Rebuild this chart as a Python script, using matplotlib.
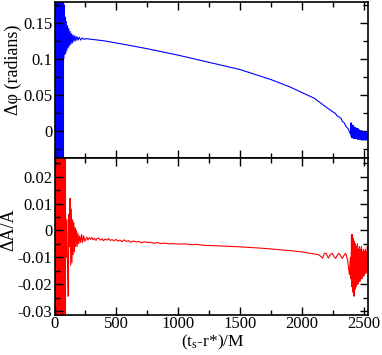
import numpy as np
import matplotlib
matplotlib.use("Agg")
import matplotlib.pyplot as plt
from matplotlib.ticker import MultipleLocator

plt.rcParams['font.family'] = ['Liberation Serif', 'DejaVu Serif']
plt.rcParams['mathtext.fontset'] = 'custom'
plt.rcParams['mathtext.rm'] = 'Liberation Serif'
plt.rcParams['mathtext.it'] = 'Liberation Serif:italic'
plt.rcParams['axes.unicode_minus'] = False

# ---- data ----
# phase difference (blue)
phi_burst_t = [8, 71]                      # dense oscillation band at start
phi_burst_lo = [-0.06, -0.06]
phi_burst_hi = [0.21, 0.21]

phi_t = [71, 74, 78, 82, 86, 90, 95, 100, 105, 110, 115, 120, 126, 132, 138,
         144, 150, 157, 164, 172, 180, 190, 200, 212, 225, 240, 255,
         400, 500, 750, 1000, 1250, 1500, 1750, 1900, 2000, 2100, 2200,
         2250, 2270, 2280, 2300, 2315, 2325, 2340, 2355, 2365, 2375, 2385,
         2392, 2395, 2397, 2399, 2401, 2403, 2405, 2407, 2409, 2411, 2413,
         2415, 2418, 2421, 2424, 2427, 2430, 2433, 2436, 2439, 2442, 2445,
         2448, 2451, 2454, 2457, 2460, 2463, 2466, 2469, 2472, 2475, 2478,
         2481, 2484, 2487, 2490, 2493, 2496, 2499, 2502, 2505, 2508, 2511,
         2514, 2517, 2520, 2523, 2526, 2530]
phi_v = [0.18, 0.10, 0.175, 0.106, 0.158, 0.108, 0.152, 0.112, 0.146, 0.115,
         0.142, 0.118, 0.138, 0.120, 0.135, 0.122, 0.133, 0.124, 0.132, 0.125,
         0.131, 0.126, 0.130, 0.126, 0.129, 0.127, 0.128,
         0.125, 0.122, 0.114, 0.105, 0.095, 0.085, 0.071, 0.061, 0.053,
         0.045, 0.032,
         0.026, 0.024, 0.021, 0.019, 0.017, 0.013, 0.011, 0.006, 0.004, 0.002,
         -0.003,
         -0.004, 0.011, -0.008, 0.010, -0.009, 0.008, -0.010, 0.007, -0.009,
         0.006, -0.010, 0.007, -0.011, 0.005, -0.010, 0.004, -0.011, 0.004,
         -0.010, 0.003, -0.011, 0.002, -0.012, 0.003, -0.011, 0.001, -0.012,
         0.001, -0.012, 0.0, -0.012, -0.001, -0.013, 0.0, -0.012, -0.002,
         -0.013, -0.001, -0.013, -0.002, -0.012, -0.002, -0.013, -0.003,
         -0.013, -0.002, -0.013, -0.003, -0.012, -0.006]

# amplitude difference (red)
amp_burst_t = [8, 84]
amp_burst_lo = [-0.04, -0.04]
amp_burst_hi = [0.03, 0.03]

amp_t = [84, 90, 95, 100, 105, 111, 116, 121, 126, 131, 136, 141, 146, 151,
         156, 161, 166, 171, 177, 183, 189, 196, 203, 211, 219, 227, 236, 245,
         255, 262, 270, 281, 290, 302, 311, 323, 335, 344, 358, 370, 384, 395,
         410, 422, 437, 450, 466, 480, 497, 512, 530, 545, 563, 580, 600, 618,
         640, 660, 683, 705, 728, 750, 775, 800, 830, 860, 890, 925, 960,
         1000, 1050, 1100, 1150, 1200, 1300, 1400, 1500, 1600, 1700, 1800,
         1900, 2000, 2060, 2100,
         2130, 2150, 2165, 2180, 2195, 2212, 2228, 2244, 2258, 2271, 2285,
         2298, 2312, 2325, 2340, 2352, 2368, 2382,
         2390, 2395, 2399, 2403, 2407, 2411, 2415, 2419, 2423, 2427, 2431,
         2435, 2439, 2443, 2447, 2451, 2455, 2459, 2463, 2467, 2471, 2475,
         2479, 2483, 2487, 2491, 2495, 2499, 2503, 2507, 2511, 2515, 2519,
         2523, 2527, 2530]
amp_v = [-0.015, 0.005, -0.010, 0.004, -0.012, -0.0245, 0.006, -0.006, 0.012,
         -0.013, 0.008, -0.012, 0.004, -0.009, 0.003, -0.008, 0.001, -0.006,
         0.0, -0.006, -0.001, -0.005, -0.002, -0.0045, -0.0015, -0.0045,
         -0.002, -0.004,
         -0.0031, -0.0025, -0.0036, -0.0027, -0.0033, -0.0026, -0.0035,
         -0.0029, -0.0037, -0.0030, -0.0028, -0.0036, -0.0031, -0.0038,
         -0.0032, -0.0036, -0.0030, -0.0037, -0.0034, -0.0039, -0.0033,
         -0.0040, -0.0036, -0.0042, -0.0035, -0.0041, -0.0038, -0.0044,
         -0.0039, -0.0043, -0.0041, -0.0046, -0.0042, -0.0045, -0.0044,
         -0.0048, -0.0045, -0.0049, -0.0047, -0.0050, -0.0049,
         -0.0051, -0.0050, -0.0053, -0.0052, -0.0055, -0.0057, -0.0059,
         -0.0061, -0.0064, -0.0067, -0.0071, -0.0075, -0.0080, -0.0085,
         -0.0088,
         -0.0090, -0.0096, -0.0103, -0.0085, -0.0086, -0.0103, -0.0090,
         -0.0085, -0.0098, -0.0104, -0.0092, -0.0085, -0.0095, -0.0104,
         -0.0092, -0.0085, -0.0110, -0.0165,
         -0.010, -0.018, -0.0015, -0.021, -0.0015, -0.023, -0.003, -0.0245,
         -0.004, -0.022, -0.005, -0.021, -0.006, -0.020, -0.005, -0.020,
         -0.007, -0.019, -0.006, -0.019, -0.007, -0.018, -0.006, -0.018,
         -0.008, -0.017, -0.007, -0.017, -0.008, -0.016, -0.007, -0.016,
         -0.008, -0.015, -0.006, -0.012]

xticks = [0, 500, 1000, 1500, 2000, 2500]
phi_yticks = [0, 0.05, 0.1, 0.15]
phi_ylabels = ["0", "0.05", "0.1", "0.15"]
amp_yticks = [-0.03, -0.02, -0.01, 0, 0.01, 0.02]
amp_ylabels = ["-0.03", "-0.02", "-0.01", "0", "0.01", "0.02"]

# ---- figure ----
W, H = 382, 355
fig = plt.figure(figsize=(W / 100, H / 100), dpi=100)
ax1 = fig.add_axes([54.5 / W, 1 - 158 / H, 313.2 / W, 156 / H])
ax2 = fig.add_axes([54.5 / W, 1 - 315 / H, 313.2 / W, 157 / H])

ax1.fill_between(phi_burst_t, phi_burst_lo, phi_burst_hi, color='blue', lw=0.8)
ax1.plot(phi_t, phi_v, color='blue', lw=0.8)
ax2.fill_between(amp_burst_t, amp_burst_lo, amp_burst_hi, color='red', lw=0.8)
ax2.plot(amp_t, amp_v, color='red', lw=0.8)

ax1.set_ylim(-0.038, 0.179)
ax2.set_ylim(-0.0315, 0.027)
for ax in (ax1, ax2):
    ax.set_xlim(0, 2530)
    ax.set_xticks(xticks)
    ax.xaxis.set_minor_locator(MultipleLocator(250))
    ax.tick_params(which='both', direction='in', top=True, right=True,
                   labelsize=12, width=1.0, pad=1.5)
    ax.tick_params(which='major', length=6)
    ax.tick_params(which='minor', length=3.5)
    for s in ax.spines.values():
        s.set_linewidth(1.2)

ax1.set_yticks(phi_yticks, phi_ylabels)
ax1.yaxis.set_minor_locator(MultipleLocator(0.025))
ax1.tick_params(labelbottom=False)
ax2.set_yticks(amp_yticks, amp_ylabels)
ax2.yaxis.set_minor_locator(MultipleLocator(0.005))
ax2.set_xticks(xticks, [str(v) for v in xticks])
ax2.tick_params(axis='x', pad=1)

fig.text(13 / W, 1 - 70 / H, 'Δφ (radians)', rotation=90, ha='center',
         va='center', fontsize=13)
fig.text(9 / W, 1 - 230 / H, 'ΔA/A', rotation=90, ha='center',
         va='center', fontsize=13)
fig.text(212.5 / W, 1 - 346 / H, r'(t$_\mathrm{s}$-r*)/M', ha='center',
         va='baseline', fontsize=12.5)

fig.savefig('out.png', dpi=100)
